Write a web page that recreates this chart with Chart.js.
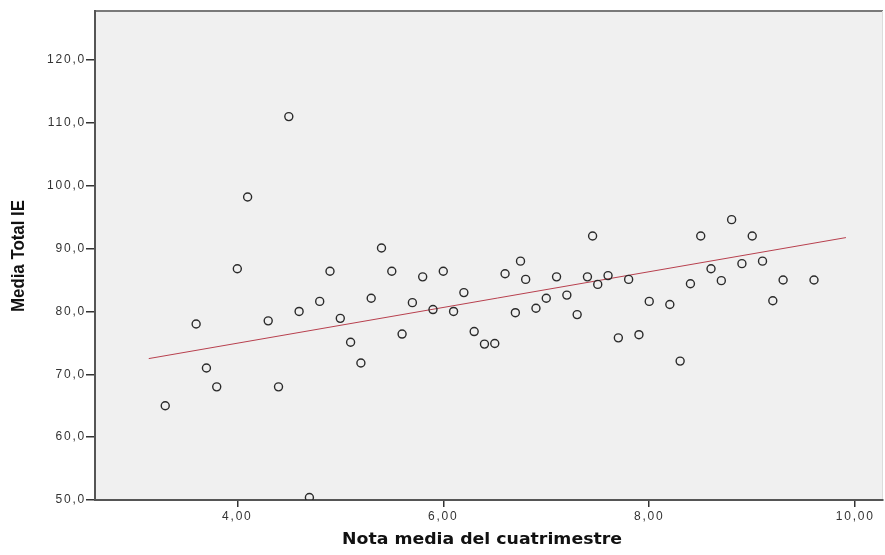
<!DOCTYPE html>
<html>
<head>
<meta charset="utf-8">
<script src="https://cdn.jsdelivr.net/npm/chart.js@4/dist/chart.umd.min.js"></script>
<style>
  html, body { margin: 0; padding: 0; background: #ffffff; }
  #wrap { width: 885px; height: 555px; position: relative; }
</style>
</head>
<body>
<div id="wrap"><canvas id="c" width="885" height="555"></canvas></div>
<script>
// Nota media del cuatrimestre (x) vs. Media Total IE (y)
const notaMedia = [
  3.3, 3.6, 3.7, 3.8, 4.0, 4.1, 4.3, 4.4, 4.5, 4.6,
  4.7, 4.8, 4.9, 5.0, 5.1, 5.2, 5.3, 5.4, 5.5, 5.6,
  5.7, 5.8, 5.9, 6.0, 6.1, 6.2, 6.3, 6.4, 6.5, 6.6,
  6.7, 6.75, 6.8, 6.9, 7.0, 7.1, 7.2, 7.3, 7.4, 7.45,
  7.5, 7.6, 7.7, 7.8, 7.9, 8.0, 8.2, 8.3, 8.4, 8.5,
  8.6, 8.7, 8.8, 8.9, 9.0, 9.1, 9.2, 9.3, 9.6
];
const mediaTotalIE = [
  65.0, 78.0, 71.0, 68.0, 86.8, 98.2, 78.5, 68.0, 111.0, 80.0,
  50.4, 81.6, 86.4, 78.9, 75.1, 71.8, 82.1, 90.1, 86.4, 76.4,
  81.4, 85.5, 80.3, 86.4, 80.0, 83.0, 76.8, 74.8, 74.9, 86.0,
  79.8, 88.0, 85.1, 80.5, 82.1, 85.5, 82.6, 79.5, 85.5, 92.0,
  84.3, 85.7, 75.8, 85.1, 76.3, 81.6, 81.1, 72.1, 84.4, 92.0,
  86.8, 84.9, 94.6, 87.6, 92.0, 88.0, 81.7, 85.0, 85.0
];

// Fitted linear trend, start and end points
const fitX = [3.14, 9.91];
const fitY = [72.5, 91.75];

// Axis ticks
const xTicks = [4, 6, 8, 10];
const yTicks = [50, 60, 70, 80, 90, 100, 110, 120];

const xTitle = 'Nota media del cuatrimestre';
const yTitle = 'Media Total IE';

const points = notaMedia.map((x, i) => ({ x: x, y: mediaTotalIE[i] }));
const fitLine = fitX.map((x, i) => ({ x: x, y: fitY[i] }));

const commaFmt = (v, d) => v.toFixed(d).replace('.', ',');

// draw a bold title stretched to a given length
function drawStretched(ctx, text, font, length, cx, cy, vertical) {
  ctx.save();
  ctx.font = font;
  ctx.letterSpacing = '0px';
  const w = ctx.measureText(text).width;
  ctx.translate(cx, cy);
  if (vertical) ctx.rotate(-Math.PI / 2);
  ctx.scale(length / w, 1);
  ctx.fillStyle = '#111111';
  ctx.textAlign = 'center';
  ctx.textBaseline = 'middle';
  ctx.fillText(text, 0, 0);
  ctx.restore();
}

const plotDecor = {
  id: 'plotDecor',
  beforeDraw(chart) {
    const { ctx, chartArea: a } = chart;
    // wide spacing for the tick labels
    ctx.letterSpacing = '1.8px';
    ctx.save();
    ctx.fillStyle = '#f0f0f0';
    ctx.fillRect(a.left, a.top, a.right - a.left, a.bottom - a.top);
    // frame: top edge and faint right edge
    ctx.strokeStyle = '#7a7a7a';
    ctx.lineWidth = 2;
    ctx.beginPath();
    ctx.moveTo(a.left, a.top);
    ctx.lineTo(a.right, a.top);
    ctx.stroke();
    ctx.strokeStyle = '#dcdcdc';
    ctx.lineWidth = 1;
    ctx.beginPath();
    ctx.moveTo(a.right - 0.5, a.top);
    ctx.lineTo(a.right - 0.5, a.bottom);
    ctx.stroke();
    ctx.restore();
  },
  afterDraw(chart) {
    const ctx = chart.ctx;
    drawStretched(ctx, xTitle, 'bold 16px "DejaVu Sans", Verdana, sans-serif', 280, 482, 540, false);
    drawStretched(ctx, yTitle, 'bold 18px "Liberation Sans", Arial, sans-serif', 112, 19, 256, true);
    ctx.letterSpacing = '0px';
  }
};

new Chart(document.getElementById('c'), {
  type: 'scatter',
  data: {
    datasets: [
      {
        type: 'line',
        data: fitLine,
        borderColor: '#b8404e',
        borderWidth: 1,
        pointRadius: 0,
        fill: false,
        order: 2
      },
      {
        data: points,
        pointStyle: 'circle',
        pointRadius: 4,
        pointHoverRadius: 4,
        borderColor: '#2a2a2a',
        borderWidth: 1.4,
        backgroundColor: 'rgba(0,0,0,0)',
        order: 1
      }
    ]
  },
  options: {
    responsive: false,
    animation: false,
    devicePixelRatio: 1,
    layout: { autoPadding: false, padding: { top: 11, right: 2, left: 0, bottom: 0 } },
    plugins: {
      legend: { display: false },
      tooltip: { enabled: false }
    },
    scales: {
      x: {
        type: 'linear',
        min: 2.618,
        max: 10.27,
        afterBuildTicks: s => { s.ticks = xTicks.map(v => ({ value: v })); },
        afterFit: s => { s.height = 55; s.paddingLeft = 0; s.paddingRight = 0; },
        grid: { drawOnChartArea: false, drawTicks: true, tickLength: 7, color: '#333333', lineWidth: 1.5 },
        border: { display: true, color: '#555555', width: 2 },
        ticks: {
          padding: 2,
          color: '#333333',
          font: { family: '"Liberation Sans", Arial, sans-serif', size: 12 },
          maxRotation: 0,
          callback: v => commaFmt(v, 2)
        }
      },
      y: {
        type: 'linear',
        min: 50,
        max: 127.8,
        afterBuildTicks: s => { s.ticks = yTicks.map(v => ({ value: v })); },
        afterFit: s => { s.width = 95; s.paddingTop = 0; s.paddingBottom = 0; },
        grid: { drawOnChartArea: false, drawTicks: true, tickLength: 9, color: '#333333', lineWidth: 1.5 },
        border: { display: true, color: '#555555', width: 2 },
        ticks: {
          padding: 0,
          color: '#333333',
          font: { family: '"Liberation Sans", Arial, sans-serif', size: 12 },
          callback: v => commaFmt(v, 1)
        }
      }
    }
  },
  plugins: [plotDecor]
});
</script>
</body>
</html>
